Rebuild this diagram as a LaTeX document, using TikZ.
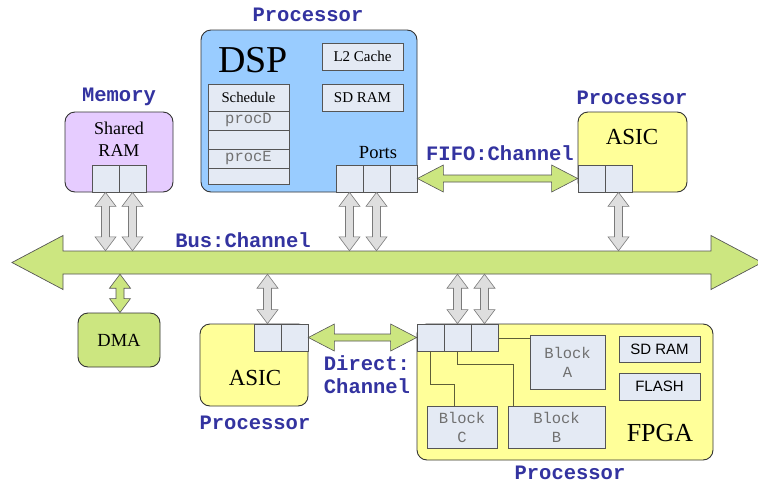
\documentclass[tikz,border=0pt]{standalone}
\usepackage{fontspec}
\setmainfont{Liberation Serif}
\setsansfont{Liberation Sans}
\setmonofont{Liberation Mono}
\usetikzlibrary{calc}

\definecolor{dspblue}{HTML}{99CCFF}
\definecolor{memviolet}{HTML}{E6CCFF}
\definecolor{asicyellow}{HTML}{FFFF99}
\definecolor{busgreen}{HTML}{CCE680}
\definecolor{cellfill}{HTML}{E4EAF4}
\definecolor{labblue}{HTML}{3333A0}
\definecolor{arrfill}{HTML}{DEDEDE}
\definecolor{arrline}{HTML}{7A7A7A}
\definecolor{wirecol}{HTML}{5E5E38}
\definecolor{outline}{HTML}{333333}
\definecolor{partline}{HTML}{555555}
\definecolor{greytext}{HTML}{707070}

\tikzset{
  % block double-headed arrow: shaft half width, head half width, head length
  fat/.style n args={3}{to path={
      let \p1=(\tikztostart), \p2=(\tikztotarget),
          \n1={veclen(\x2-\x1,\y2-\y1)}, \n2={atan2(\y2-\y1,\x2-\x1)} in
      {[shift={(\p1)}, rotate=\n2]
        (0,0) -- (#3,#2) -- (#3,#1) -- (\n1-#3,#1) -- (\n1-#3,#2) -- (\n1,0)
        -- (\n1-#3,-#2) -- (\n1-#3,-#1) -- (#3,-#1) -- (#3,-#2) -- cycle}}},
  gfat/.style={fat={4}{10.5}{14}, draw=arrline, fill=arrfill, line width=0.6pt},
  hfat/.style={fat={3.5}{13.5}{26}, draw=partline, fill=busgreen, line width=0.6pt},
  busarrow/.style={fat={11.5}{27}{51}, draw=partline, fill=busgreen, line width=0.7pt},
  unit/.style={draw=outline, line width=0.9pt, rounded corners=10pt, inner sep=0pt},
  cell/.style={draw=partline, fill=cellfill, line width=0.7pt, minimum width=27pt,
    minimum height=27pt, inner sep=0pt},
  part/.style={draw=partline, fill=cellfill, line width=0.8pt, inner sep=0pt},
  lab/.style={font=\fontsize{20.5}{23}\selectfont\ttfamily\bfseries, text=labblue,
    inner sep=0pt, align=center},
  serif/.style={font=\fontsize{#1}{#1}\selectfont, inner sep=0pt},
  blocktxt/.style={font=\fontsize{15.5}{19}\selectfont\ttfamily, text=greytext, align=center},
  wire/.style={draw=wirecol, line width=0.8pt},
}

\begin{document}
\begin{tikzpicture}[x=1pt, y=-1pt]
\useasboundingbox (0,0) rectangle (758,485);
\fill[white] (0,0) rectangle (758,485);

% ---- processing units ----
\node[unit, fill=memviolet, minimum width=108pt, minimum height=80pt] (mem) at (119,152) {};
\node[unit, fill=dspblue, minimum width=216pt, minimum height=162pt] (dsp) at (309,111) {};
\node[unit, fill=asicyellow, minimum width=109pt, minimum height=80pt] (asicT) at (632.5,152) {};
\node[unit, fill=busgreen, minimum width=82pt, minimum height=54pt, font=\fontsize{18.5}{18.5}\selectfont] (dma) at (119,340) {DMA};
\node[unit, fill=asicyellow, minimum width=108pt, minimum height=82pt] (asicB) at (254,365) {};
\node[unit, fill=asicyellow, minimum width=296pt, minimum height=136pt] (fpga) at (565,392) {};

% ---- ports ----
\node[cell] (m1) at (105.5,178.5) {};
\node[cell] (m2) at (132.5,178.5) {};
\node[cell] (d1) at (349.5,178.5) {};
\node[cell] (d2) at (376.5,178.5) {};
\node[cell] (d3) at (403.5,178.5) {};
\node[cell] (a1) at (591.5,178.5) {};
\node[cell] (a2) at (618.5,178.5) {};
\node[cell] (b1) at (267.5,337.5) {};
\node[cell] (b2) at (294.5,337.5) {};
\node[cell] (f1) at (430.5,337.5) {};
\node[cell] (f2) at (457.5,337.5) {};
\node[cell] (f3) at (484.5,337.5) {};

% ---- DSP internals ----
\node[serif=38] (dsptxt) at (253,60) {DSP};
\node[part, minimum width=81pt, minimum height=27pt, font=\fontsize{15}{15}\selectfont] (l2) at (362.5,56.5) {L2 Cache};
\node[part, minimum width=81pt, minimum height=27pt, font=\fontsize{15}{15}\selectfont] (dsdram) at (362.5,97.5) {SD RAM};
\node[part, minimum width=81pt, minimum height=27pt, font=\fontsize{14.7}{14.7}\selectfont] (sched) at (248.5,97.5) {Schedule};
\node[part, minimum width=81pt, minimum height=19pt, font=\fontsize{15.5}{15.5}\selectfont\ttfamily, text=greytext] (procD) at (248.5,120.5) {procD};
\node[part, minimum width=81pt, minimum height=19pt] (slot1) at (248.5,139.5) {};
\node[part, minimum width=81pt, minimum height=19pt, font=\fontsize{15.5}{15.5}\selectfont\ttfamily, text=greytext] (procE) at (248.5,158.5) {procE};
\node[part, minimum width=81pt, minimum height=16pt] (slot2) at (248.5,176) {};
\node[serif=18.5] (ports) at (378,153) {Ports};

% ---- other unit texts ----
\node[font=\fontsize{18}{22}\selectfont, align=center, inner sep=0pt] (memtxt) at (119,139.5) {Shared\\RAM};
\node[serif=23] (asicTtxt) at (632,137) {ASIC};
\node[serif=23] (asicBtxt) at (255,378) {ASIC};
\node[serif=26] (fpgatxt) at (660,433) {FPGA};

% ---- FPGA internals ----
\node[part, minimum width=75pt, minimum height=54pt, blocktxt] (blkA) at (567.5,362) {Block\\A};
\node[part, minimum width=70pt, minimum height=42pt, blocktxt] (blkC) at (462,427) {Block\\C};
\node[part, minimum width=97pt, minimum height=42pt, blocktxt] (blkB) at (556.5,427) {Block\\B};
\node[part, minimum width=81pt, minimum height=26pt, font=\sffamily\fontsize{15}{15}\selectfont] (fsdram) at (659.5,349) {SD RAM};
\node[part, minimum width=81pt, minimum height=27pt, font=\sffamily\fontsize{15}{15}\selectfont] (flash) at (659.5,386.5) {FLASH};

\draw[wire] (f3.east |- 0,338) -- (blkA.west |- 0,338);
\draw[wire] (f1.south) -- ++(0,33) -| ([xshift=-8pt]blkC.north);
\draw[wire] (f2.south) -- ++(0,13) -| ([xshift=-43.5pt]blkB.north);

% ---- bus ----
\node[inner sep=0pt, minimum width=648pt, minimum height=23pt] (bus) at (389,262.5) {};
\coordinate (busL) at (12,262.5);
\coordinate (busR) at (762,262.5);
\draw[busarrow] (busL) to (busR);

% ---- channels ----
\draw[hfat] (d3.east) to (a1.west);
\draw[hfat] (b2.east) to (f1.west);

\draw[gfat] (m1.south) to (m1.south |- bus.north);
\draw[gfat] (m2.south) to (m2.south |- bus.north);
\draw[gfat] (d1.south) to (d1.south |- bus.north);
\draw[gfat] (d2.south) to (d2.south |- bus.north);
\draw[gfat] (a2.south) to (a2.south |- bus.north);
\draw[gfat] (b1.north |- bus.south) to (b1.north);
\draw[gfat] (f2.north |- bus.south) to (f2.north);
\draw[gfat] (f3.north |- bus.south) to (f3.north);
\draw[gfat, draw=partline, fill=busgreen] ([xshift=1pt]dma.north |- bus.south) to ([xshift=1pt]dma.north);

% ---- labels ----
\node[lab] (lbDSP) at (308,15) {Processor};
\node[lab] (lbMem) at (119,97) {Memory};
\node[lab] (lbAT) at (632,98) {Processor};
\node[lab] (lbAB) at (255,423) {Processor};
\node[lab] (lbF) at (570,473) {Processor};
\node[lab] (lbFifo) at (500,153) {FIFO:Channel};
\node[lab] (lbBus) at (243,240) {Bus:Channel};
\node[lab] (lbDir) at (367,374.5) {Direct:\\Channel};
\end{tikzpicture}
\end{document}
